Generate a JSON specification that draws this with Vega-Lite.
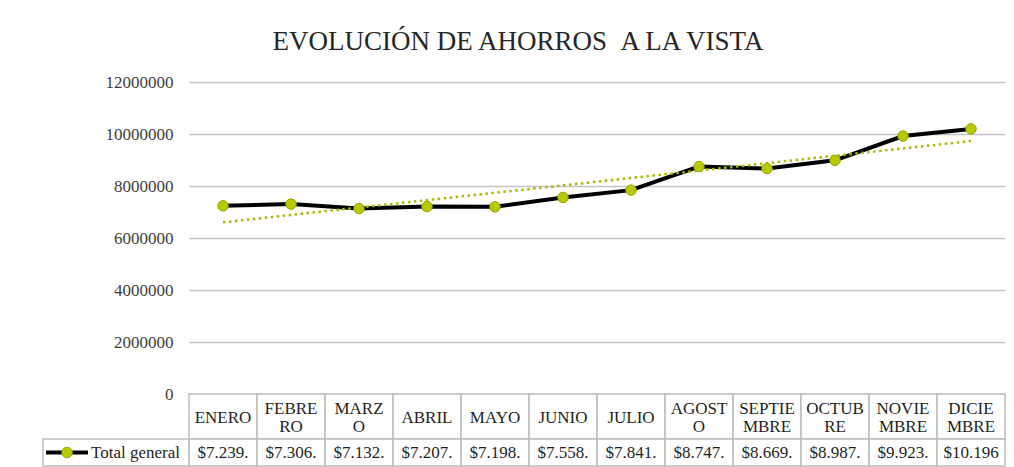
{
  "$schema": "https://vega.github.io/schema/vega-lite/v6.json",
  "padding": {"left": 42, "top": 28, "right": 0, "bottom": 0},
  "background": "white",
  "config": {
    "view": {"stroke": null},
    "font": "Liberation Serif",
    "concat": {"spacing": 0}
  },
  "title": {
    "text": "EVOLUCIÓN DE AHORROS\u00a0\u00a0A LA VISTA",
    "font": "Liberation Serif",
    "fontSize": 27,
    "fontWeight": "normal",
    "color": "#262626",
    "anchor": "middle",
    "dx": -6,
    "offset": 17
  },
  "datasets": {
    "meses": [
      {"n": 1, "mes": "ENERO", "etiqueta": "ENERO", "valor": 7239000, "texto": "$7.239."},
      {"n": 2, "mes": "FEBRERO", "etiqueta": "FEBRE\nRO", "valor": 7306000, "texto": "$7.306."},
      {"n": 3, "mes": "MARZO", "etiqueta": "MARZ\nO", "valor": 7132000, "texto": "$7.132."},
      {"n": 4, "mes": "ABRIL", "etiqueta": "ABRIL", "valor": 7207000, "texto": "$7.207."},
      {"n": 5, "mes": "MAYO", "etiqueta": "MAYO", "valor": 7198000, "texto": "$7.198."},
      {"n": 6, "mes": "JUNIO", "etiqueta": "JUNIO", "valor": 7558000, "texto": "$7.558."},
      {"n": 7, "mes": "JULIO", "etiqueta": "JULIO", "valor": 7841000, "texto": "$7.841."},
      {"n": 8, "mes": "AGOSTO", "etiqueta": "AGOST\nO", "valor": 8747000, "texto": "$8.747."},
      {"n": 9, "mes": "SEPTIEMBRE", "etiqueta": "SEPTIE\nMBRE", "valor": 8669000, "texto": "$8.669."},
      {"n": 10, "mes": "OCTUBRE", "etiqueta": "OCTUB\nRE", "valor": 8987000, "texto": "$8.987."},
      {"n": 11, "mes": "NOVIEMBRE", "etiqueta": "NOVIE\nMBRE", "valor": 9923000, "texto": "$9.923."},
      {"n": 12, "mes": "DICIEMBRE", "etiqueta": "DICIE\nMBRE", "valor": 10196000, "texto": "$10.196"}
    ],
    "leyenda": [{"serie": "Total general"}]
  },
  "bounds": "flush",
  "spacing": 0,
  "resolve": {"scale": {"x": "independent", "y": "independent"}},
  "vconcat": [
    {
      "width": 962,
      "height": 312,
      "data": {"name": "meses"},
      "encoding": {
        "x": {
          "field": "mes", "type": "nominal", "axis": null,
          "scale": {"type": "band", "domain": ["ENERO","FEBRERO","MARZO","ABRIL","MAYO","JUNIO","JULIO","AGOSTO","SEPTIEMBRE","OCTUBRE","NOVIEMBRE","DICIEMBRE"], "range": [146, 962], "paddingInner": 0, "paddingOuter": 0}
        },
        "y": {
          "field": "valor", "type": "quantitative",
          "scale": {"domain": [0, 12000000], "nice": false, "zero": true},
          "axis": {
            "values": [0, 2000000, 4000000, 6000000, 8000000, 10000000, 12000000],
            "format": "d",
            "offset": -146,
            "grid": true,
            "gridColor": "#c4c4c4",
            "gridWidth": 1.5,
            "ticks": false,
            "domain": false,
            "labelFont": "Liberation Serif",
            "labelFontSize": 17,
            "labelColor": "#404040",
            "labelPadding": 16,
            "title": null
          }
        }
      },
      "layer": [
        {"mark": {"type": "line", "color": "#000000", "strokeWidth": 4}},
        {
          "transform": [
            {"regression": "valor", "on": "n"},
            {"lookup": "n", "from": {"data": {"name": "meses"}, "key": "n", "fields": ["mes"]}}
          ],
          "mark": {"type": "line", "color": "#a8ba00", "strokeWidth": 2.5, "strokeDash": [2.5, 3.5]}
        },
        {"mark": {"type": "point", "filled": true, "size": 110, "fill": "#b9c900", "stroke": "#98a600", "strokeWidth": 1, "opacity": 1}}
      ]
    },
    {
      "width": 962,
      "height": 45,
      "data": {"name": "meses"},
      "encoding": {
        "x": {
          "field": "mes", "type": "nominal", "axis": null,
          "scale": {"type": "band", "domain": ["ENERO","FEBRERO","MARZO","ABRIL","MAYO","JUNIO","JULIO","AGOSTO","SEPTIEMBRE","OCTUBRE","NOVIEMBRE","DICIEMBRE"], "range": [146, 962], "paddingInner": 0, "paddingOuter": 0}
        }
      },
      "layer": [
        {"mark": {"type": "rect", "fill": "white", "stroke": "#bdbdbd", "strokeWidth": 1.5}},
        {
          "transform": [{"filter": "indexof(datum.etiqueta, '\\n') < 0"}],
          "mark": {"type": "text", "font": "Liberation Serif", "fontSize": 17, "color": "#1f1f1f", "baseline": "middle", "align": "center", "dy": 1},
          "encoding": {"text": {"field": "etiqueta"}}
        },
        {
          "transform": [{"filter": "indexof(datum.etiqueta, '\\n') >= 0"}],
          "mark": {"type": "text", "font": "Liberation Serif", "fontSize": 17, "color": "#1f1f1f", "lineBreak": "\n", "lineHeight": 18, "baseline": "middle", "align": "center", "dy": -8},
          "encoding": {"text": {"field": "etiqueta"}}
        }
      ]
    },
    {
      "width": 962,
      "height": 27,
      "resolve": {"scale": {"x": "independent"}},
      "layer": [
        {
          "data": {"name": "leyenda"},
          "encoding": {
            "x": {"field": "serie", "type": "nominal", "axis": null, "bandPosition": 0,
                  "scale": {"type": "band", "range": [0, 146], "paddingInner": 0, "paddingOuter": 0}},
            "y": {"field": "serie", "type": "nominal", "axis": null}
          },
          "layer": [
            {"mark": {"type": "rect", "fill": "white", "stroke": "#bdbdbd", "strokeWidth": 1.5},
             "encoding": {"x": {"field": "serie", "type": "nominal", "axis": null}, "y": null}},
            {"mark": {"type": "tick", "orient": "horizontal", "color": "#000000", "size": 42, "thickness": 4, "opacity": 1, "xOffset": -49}},
            {"mark": {"type": "point", "filled": true, "size": 110, "fill": "#b9c900", "stroke": "#98a600", "strokeWidth": 1, "opacity": 1, "xOffset": 24}},
            {"mark": {"type": "text", "font": "Liberation Serif", "fontSize": 17, "color": "#1f1f1f", "align": "left", "baseline": "middle", "dx": 48},
             "encoding": {"text": {"field": "serie"}}}
          ]
        },
        {
          "data": {"name": "meses"},
          "encoding": {
            "x": {
              "field": "mes", "type": "nominal", "axis": null,
              "scale": {"type": "band", "domain": ["ENERO","FEBRERO","MARZO","ABRIL","MAYO","JUNIO","JULIO","AGOSTO","SEPTIEMBRE","OCTUBRE","NOVIEMBRE","DICIEMBRE"], "range": [146, 962], "paddingInner": 0, "paddingOuter": 0}
            }
          },
          "layer": [
            {"mark": {"type": "rect", "fill": "white", "stroke": "#bdbdbd", "strokeWidth": 1.5}},
            {
              "mark": {"type": "text", "font": "Liberation Serif", "fontSize": 17, "color": "#1f1f1f", "baseline": "middle", "align": "center"},
              "encoding": {"text": {"field": "texto"}}
            }
          ]
        }
      ]
    }
  ]
}
